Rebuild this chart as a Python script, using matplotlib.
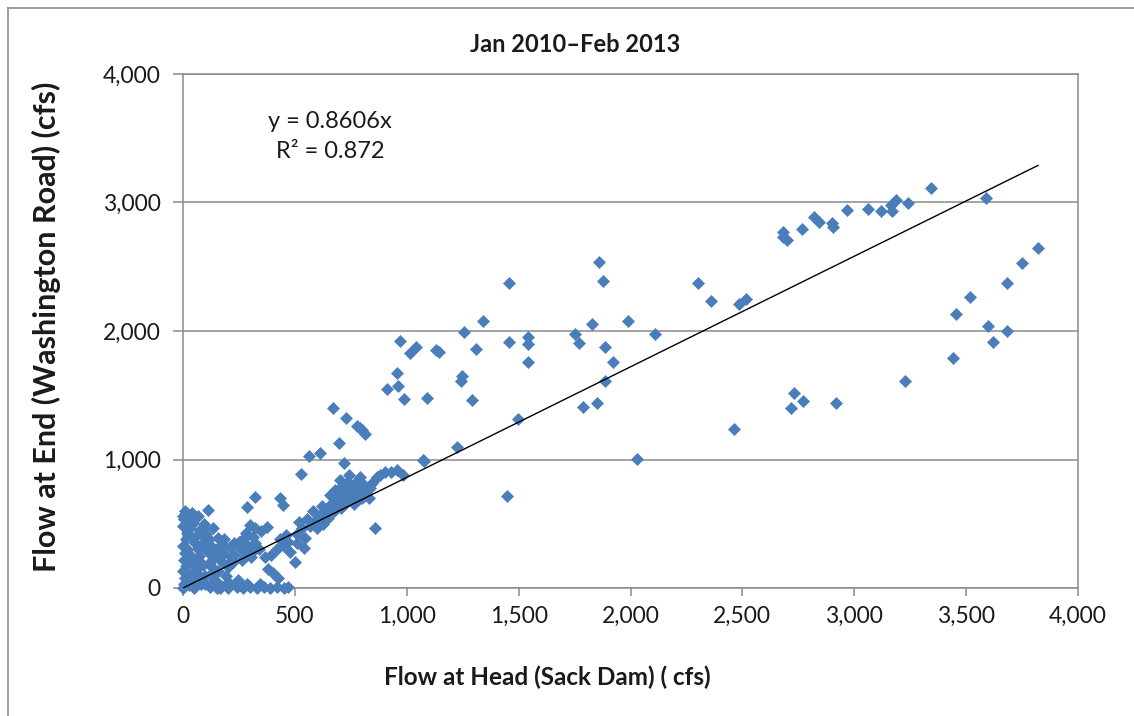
import matplotlib
matplotlib.use("Agg")
import matplotlib.pyplot as plt
from matplotlib.lines import Line2D
from matplotlib.ticker import FuncFormatter, MultipleLocator

plt.rcParams['font.family'] = ['Lato', 'DejaVu Sans']

# ---------------- data (flow, cfs) ----------------
# upper-right cluster
head_upper = [2681, 2681, 2699, 2766, 2820, 2842, 2900, 2905, 2967, 3061,
              3119, 3168, 3164, 3186, 3240, 3343, 3589]
end_upper = [2770, 2731, 2708, 2794, 2887, 2848, 2840, 2809, 2942, 2949,
             2934, 2934, 2981, 3019, 2996, 3113, 3035]

# lower-right points
head_right = [3821, 3749, 3682, 3517, 3454, 3597, 3682, 3619, 3441, 3227]
end_right = [2646, 2529, 2373, 2265, 2132, 2039, 2000, 1914, 1790, 1611]

# middle scattered points
head_mid = [1341, 1457, 1457, 1542, 1542, 1542, 1497, 1448, 1752, 1770,
            1828, 1859, 1877, 1886, 1922, 1886, 1788, 1850, 1989, 2109,
            2029, 2301, 2360, 2485, 2516, 2462, 2731, 2717, 2771, 2918,
            1256, 1309, 1247, 1242, 1291, 1224]
end_mid = [2078, 2373, 1914, 1953, 1899, 1759, 1315, 716, 1977, 1907,
           2054, 2537, 2389, 1876, 1759, 1611, 1409, 1440, 2078, 1977,
           1004, 2373, 2233, 2210, 2249, 1237, 1517, 1401, 1455, 1440,
           1992, 1860, 1650, 1611, 1463, 1097]

# around 1,000 cfs at head
head_1k = [970, 1014, 1041, 1144, 1130, 956, 912, 961, 988, 1090, 1077]
end_1k = [1922, 1829, 1876, 1837, 1850, 1673, 1549, 1572, 1471, 1479, 988]

# 500-1,000 cfs at head, upper scatter
head_5h = [670, 728, 778, 790, 800, 813, 697, 563, 612, 720, 527, 880,
           956, 983, 858, 1074]
end_5h = [1401, 1323, 1261, 1245, 1230, 1198, 1128, 1027, 1051, 973, 887,
          879, 918, 879, 467, 996]

# dense band along the trend line
head_band = [322, 433, 448, 285, 375, 313, 500, 425, 508, 530, 553, 520,
             545, 567, 590, 610, 640, 660, 687, 600, 625, 650, 580, 620,
             700, 720, 740, 760, 780, 800, 820, 730, 770, 790, 750, 810,
             835, 710, 760, 700, 740, 830, 865, 905, 930, 680, 655, 845,
             705, 725, 745, 765, 785, 805, 775, 755, 735, 715, 695, 675]
end_band = [706, 700, 646, 633, 475, 397, 202, 78, 420, 470, 540, 510,
            390, 480, 520, 560, 600, 650, 685, 470, 500, 545, 600, 640,
            700, 740, 780, 720, 760, 700, 740, 660, 820, 860, 800, 800,
            780, 790, 680, 840, 880, 700, 866, 905, 900, 760, 720, 820,
            620, 680, 720, 650, 690, 760, 790, 750, 820, 760, 650, 600]

# low region 200-550 cfs at head
head_low = [200, 240, 270, 300, 330, 360, 390, 420, 450, 470, 215, 230,
            260, 290, 320, 210, 250, 280, 310, 340, 230, 270, 280, 320,
            350, 300, 420, 450, 480, 510, 540, 470, 380, 400, 255, 345,
            365, 395, 435, 460, 225, 265, 305, 205, 245, 285]
end_low = [0, 10, 0, 5, 0, 10, 0, 5, 0, 10, 240, 260, 300, 330, 350, 320,
           360, 250, 280, 300, 350, 380, 430, 470, 440, 490, 300, 330, 280,
           350, 310, 360, 150, 120, 20, 30, 240, 260, 380, 410, 200, 220,
           240, 40, 60, 30]

# dense cluster near the origin
head_origin = [0, 5, 10, 0, 15, 3, 8, 0, 12, 20, 2, 6, 25, 30, 18, 40, 45,
               35, 50, 60, 55, 70, 80, 75, 90, 100, 95, 110, 120, 115, 130,
               140, 150, 160, 145, 170, 180, 175, 190, 200, 40, 112, 46, 65,
               85, 105, 125, 135, 155, 165, 185, 30, 10, 22, 58, 78, 98, 118,
               138, 158, 0, 28, 62, 88, 150, 195, 70, 100, 130, 160, 35,
               65, 95, 125, 185, 210]
end_origin = [0, 30, 80, 130, 170, 220, 270, 330, 380, 430, 480, 540, 20,
              100, 300, 60, 200, 400, 0, 150, 350, 250, 30, 450, 180, 90,
              500, 280, 10, 380, 220, 150, 50, 320, 260, 10, 270, 200, 90,
              160, 583, 607, 503, 560, 470, 420, 330, 470, 390, 0, 330, 470,
              600, 240, 110, 200, 320, 190, 60, 130, 560, 520, 410, 350, 0,
              40, 100, 30, 120, 230, 250, 300, 400, 280, 380, 200]

slope = 0.8606
equation = "y = 0.8606x"
r2_text = "R\u00b2 = 0.872"
title = "Jan 2010\u2013Feb 2013"
xlabel = "Flow at Head (Sack Dam) ( cfs)"
ylabel = "Flow at End (Washington Road) (cfs)"

head = (head_upper + head_right + head_mid + head_1k + head_5h + head_band
        + head_low + head_origin)
end = (end_upper + end_right + end_mid + end_1k + end_5h + end_band
       + end_low + end_origin)

# ---------------- figure ----------------
W, H = 1134, 716
fig = plt.figure(figsize=(W / 100, H / 100), dpi=100)
fig.patch.set_facecolor('white')

ax = fig.add_axes([183 / W, 1 - 588 / H, (1078 - 183) / W, (588 - 74) / H])

grid_col = '#8a8a8a'
txt_col = '#1a1a1a'
ax.set_xlim(0, 4000)
ax.set_ylim(0, 4000)
ax.xaxis.set_major_locator(MultipleLocator(500))
ax.yaxis.set_major_locator(MultipleLocator(1000))
fmt = FuncFormatter(lambda v, p: f"{int(v):,}")
ax.xaxis.set_major_formatter(fmt)
ax.yaxis.set_major_formatter(fmt)
ax.grid(axis='y', color=grid_col, linewidth=1.1)
ax.set_axisbelow(True)
for s in ax.spines.values():
    s.set_color(grid_col)
    s.set_linewidth(1.1)
ax.tick_params(axis='both', direction='out', width=1.1, color=grid_col,
               labelsize=16.5, labelcolor=txt_col)
ax.tick_params(axis='x', length=6, pad=7)
ax.tick_params(axis='y', length=7, pad=9)

ax.plot(head, end, linestyle='none', marker='D', markersize=6.3,
        markerfacecolor='#4A7EBB', markeredgecolor='#4A7EBB',
        markeredgewidth=0.5, clip_on=False, zorder=3)

xmax = max(head)
ax.plot([0, xmax], [0, slope * xmax], color='black', linewidth=1.0, zorder=4)

fig.text(330 / W, 1 - 122 / H, equation, ha='center', va='center',
         fontsize=17, color=txt_col)
fig.text(330 / W, 1 - 152 / H, r2_text, ha='center', va='center',
         fontsize=17, color=txt_col)

fig.text(575 / W, 1 - 45 / H, title, ha='center', va='center',
         fontsize=17, fontweight='bold', color=txt_col)
fig.text(547 / W, 1 - 677 / H, xlabel, ha='center', va='center',
         fontsize=17.5, fontweight='bold', color=txt_col)
fig.text(46 / W, 1 - 327 / H, ylabel, ha='center', va='center',
         rotation=90, fontsize=22, fontweight='bold', color=txt_col)

# chart frame
fig.add_artist(Line2D([8 / W, 8 / W], [0, 1 - 8 / H], color='#8c8c8c',
                      linewidth=1.2, transform=fig.transFigure))
fig.add_artist(Line2D([8 / W, 1], [1 - 8 / H, 1 - 8 / H], color='#8c8c8c',
                      linewidth=1.2, transform=fig.transFigure))

fig.savefig('out.png', dpi=100, facecolor='white')
